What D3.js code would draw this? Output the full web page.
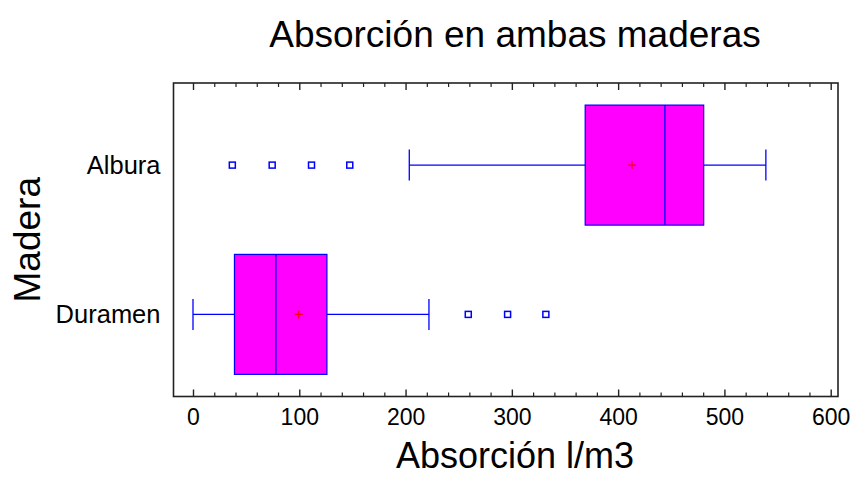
<!DOCTYPE html>
<html>
<head>
<meta charset="utf-8">
<script src="https://cdn.jsdelivr.net/npm/d3@7"></script>
<style>
  html, body { margin: 0; padding: 0; background: #fff; }
  svg { display: block; font-family: "Liberation Sans", Arial, sans-serif; }
</style>
</head>
<body>
<svg id="chart" width="854" height="477"></svg>
<script>
// Box-and-whisker summary per wood type
const categories  = ["Albura", "Duramen"];
const whiskerLow  = [203.5, 0];
const q1          = [369, 39];
const median      = [444, 78];
const q3          = [480.5, 126];
const whiskerHigh = [539, 222];
const means       = [413, 99.5];
const outliers    = [[37, 74.5, 111.5, 147.5], [259, 296, 332]];
const xTicks      = [0, 100, 200, 300, 400, 500, 600];

const rows = categories.map((c, i) => ({
  cat: c, lo: whiskerLow[i], q1: q1[i], med: median[i], q3: q3[i],
  hi: whiskerHigh[i], mean: means[i], out: outliers[i]
}));

const svg = d3.select("#chart");
const frame = { left: 173.5, right: 838, top: 83, bottom: 396.5 };

const x = d3.scaleLinear().domain([0, 600]).range([193, 830.7]);
const y = d3.scalePoint().domain(categories)
  .range([frame.top, frame.bottom]).padding(0.55);

const boxHalf = 60, capHalf = 15.5, sq = 6;
const blue = "#0000ff";

// Frame
svg.append("rect")
  .attr("x", frame.left).attr("y", frame.top)
  .attr("width", frame.right - frame.left)
  .attr("height", frame.bottom - frame.top)
  .attr("fill", "none").attr("stroke", "#222").attr("stroke-width", 1.6);

// Inward ticks on bottom and top edges
const minor = d3.range(0, 601, 20).filter(v => v % 100 !== 0);
const bottomAxis = d3.axisTop(x).tickValues(xTicks).tickSize(7).tickFormat("");
const topAxis = d3.axisBottom(x).tickValues(xTicks).tickSize(7).tickFormat("");
[[bottomAxis, frame.bottom, d3.axisTop], [topAxis, frame.top, d3.axisBottom]].forEach(([ax, yy, mk]) => {
  const g = svg.append("g").attr("transform", `translate(0,${yy})`).call(ax);
  g.select(".domain").remove();
  g.selectAll("line").attr("stroke", "#222").attr("stroke-width", 1.4);
  const gm = svg.append("g").attr("transform", `translate(0,${yy})`)
    .call(mk(x).tickValues(minor).tickSize(4).tickFormat(""));
  gm.select(".domain").remove();
  gm.selectAll("line").attr("stroke", "#222").attr("stroke-width", 1.2);
});

// Tick labels under the plot
const lab = svg.append("g").attr("transform", `translate(0,${frame.bottom})`)
  .call(d3.axisBottom(x).tickValues(xTicks).tickSize(0).tickPadding(12));
lab.select(".domain").remove();
lab.selectAll("text").attr("font-size", 23).attr("fill", "#000")
  .attr("font-family", "Liberation Sans, Arial, sans-serif");

// Category labels
const yl = svg.append("g").attr("transform", `translate(${frame.left},0)`)
  .call(d3.axisLeft(y).tickSize(0).tickPadding(13));
yl.select(".domain").remove();
yl.selectAll("text").attr("font-size", 25.5).attr("fill", "#000")
  .attr("font-family", "Liberation Sans, Arial, sans-serif");

// Boxes
const g = svg.append("g").selectAll("g").data(rows).join("g");

g.append("line")
  .attr("x1", d => x(d.lo)).attr("x2", d => x(d.q1))
  .attr("y1", d => y(d.cat)).attr("y2", d => y(d.cat))
  .attr("stroke", blue).attr("stroke-width", 1.3);
g.append("line")
  .attr("x1", d => x(d.q3)).attr("x2", d => x(d.hi))
  .attr("y1", d => y(d.cat)).attr("y2", d => y(d.cat))
  .attr("stroke", blue).attr("stroke-width", 1.3);
g.append("line")
  .attr("x1", d => x(d.lo)).attr("x2", d => x(d.lo))
  .attr("y1", d => y(d.cat) - capHalf).attr("y2", d => y(d.cat) + capHalf)
  .attr("stroke", blue).attr("stroke-width", 1.3);
g.append("line")
  .attr("x1", d => x(d.hi)).attr("x2", d => x(d.hi))
  .attr("y1", d => y(d.cat) - capHalf).attr("y2", d => y(d.cat) + capHalf)
  .attr("stroke", blue).attr("stroke-width", 1.3);

g.append("rect")
  .attr("x", d => x(d.q1)).attr("width", d => x(d.q3) - x(d.q1))
  .attr("y", d => y(d.cat) - boxHalf).attr("height", boxHalf * 2)
  .attr("fill", "#ff00ff").attr("stroke", blue).attr("stroke-width", 1.2);
g.append("line")
  .attr("x1", d => x(d.med)).attr("x2", d => x(d.med))
  .attr("y1", d => y(d.cat) - boxHalf).attr("y2", d => y(d.cat) + boxHalf)
  .attr("stroke", blue).attr("stroke-width", 1.3);

// Mean marker
g.append("path")
  .attr("d", d => `M${x(d.mean) - 4},${y(d.cat)}H${x(d.mean) + 4}M${x(d.mean)},${y(d.cat) - 4}V${y(d.cat) + 4}`)
  .attr("stroke", "#ff0000").attr("stroke-width", 1.2).attr("fill", "none");

// Outliers
g.selectAll("rect.out").data(d => d.out.map(v => ({ v, cat: d.cat })))
  .join("rect").attr("class", "out")
  .attr("x", d => x(d.v) - sq / 2).attr("y", d => y(d.cat) - sq / 2)
  .attr("width", sq).attr("height", sq)
  .attr("fill", "none").attr("stroke", blue).attr("stroke-width", 1.5);

// Titles
svg.append("text").attr("x", 515).attr("y", 47)
  .attr("text-anchor", "middle").attr("font-size", 37).attr("fill", "#000")
  .text("Absorción en ambas maderas");
svg.append("text").attr("x", 515).attr("y", 468)
  .attr("text-anchor", "middle").attr("font-size", 36).attr("fill", "#000")
  .text("Absorción l/m3");
svg.append("text")
  .attr("transform", `translate(40,${(frame.top + frame.bottom) / 2}) rotate(-90)`)
  .attr("text-anchor", "middle").attr("font-size", 37).attr("fill", "#000")
  .text("Madera");
</script>
</body>
</html>
